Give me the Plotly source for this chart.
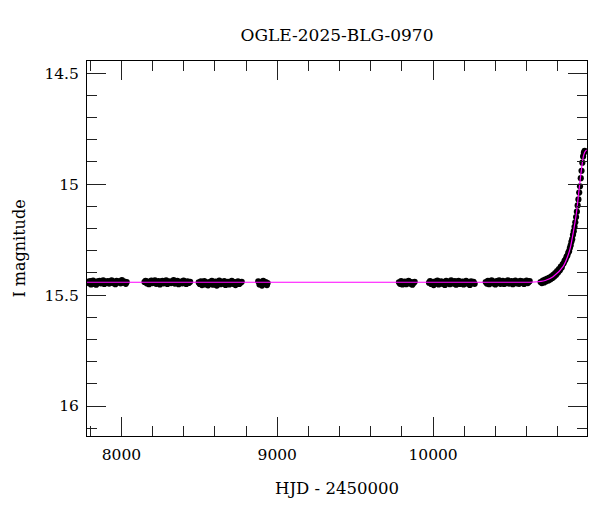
import plotly.graph_objects as go

# ---- Data (HJD - 2450000, I magnitude) ----
season1 = [(7786, 15.440), (7792, 15.446), (7799, 15.437), (7805, 15.452), (7811, 15.443), (7818, 15.435),
           (7824, 15.449), (7831, 15.441), (7838, 15.453), (7846, 15.438), (7853, 15.444), (7860, 15.436),
           (7868, 15.447), (7875, 15.442), (7883, 15.433), (7890, 15.450), (7898, 15.439), (7905, 15.445),
           (7913, 15.437), (7921, 15.448), (7929, 15.441), (7937, 15.434), (7945, 15.446), (7953, 15.440),
           (7961, 15.451), (7969, 15.436), (7978, 15.443), (7986, 15.438), (7995, 15.447), (8003, 15.432),
           (8012, 15.444), (8020, 15.439), (8028, 15.449), (8034, 15.441)]
season2 = [(8148, 15.441), (8155, 15.436), (8162, 15.447), (8169, 15.439), (8177, 15.451), (8184, 15.443),
           (8192, 15.435), (8199, 15.446), (8207, 15.440), (8215, 15.433), (8223, 15.449), (8231, 15.442),
           (8239, 15.437), (8247, 15.452), (8255, 15.444), (8263, 15.436), (8271, 15.447), (8279, 15.441),
           (8287, 15.434), (8295, 15.450), (8303, 15.443), (8311, 15.438), (8319, 15.446), (8327, 15.440),
           (8335, 15.432), (8343, 15.448), (8351, 15.442), (8359, 15.436), (8367, 15.451), (8375, 15.444),
           (8383, 15.439), (8391, 15.447), (8399, 15.435), (8408, 15.443), (8416, 15.450), (8424, 15.438),
           (8432, 15.445), (8441, 15.440)]
season3 = [(8496, 15.443), (8503, 15.450), (8510, 15.438), (8517, 15.455), (8525, 15.446), (8532, 15.437),
           (8540, 15.452), (8548, 15.444), (8556, 15.456), (8564, 15.441), (8572, 15.449), (8580, 15.436),
           (8588, 15.453), (8596, 15.445), (8604, 15.439), (8612, 15.457), (8620, 15.447), (8628, 15.435),
           (8636, 15.451), (8644, 15.443), (8652, 15.448), (8660, 15.437), (8668, 15.454), (8676, 15.444),
           (8684, 15.440), (8692, 15.452), (8700, 15.446), (8708, 15.436), (8716, 15.449), (8724, 15.441),
           (8732, 15.455), (8740, 15.443), (8748, 15.438), (8756, 15.450), (8764, 15.444), (8772, 15.440)]
season4 = [(8878, 15.438), (8886, 15.452), (8894, 15.444), (8902, 15.457), (8910, 15.436), (8918, 15.449),
           (8926, 15.441), (8934, 15.455), (8938, 15.446)]
season5 = [(9781, 15.442), (9788, 15.449), (9795, 15.437), (9803, 15.452), (9811, 15.444), (9819, 15.439),
           (9827, 15.451), (9835, 15.443), (9843, 15.436), (9851, 15.448), (9859, 15.441), (9867, 15.453),
           (9875, 15.445), (9882, 15.440)]
season6 = [(9974, 15.444), (9981, 15.437), (9988, 15.450), (9996, 15.442), (10004, 15.455), (10012, 15.439),
           (10020, 15.447), (10028, 15.435), (10036, 15.452), (10044, 15.443), (10052, 15.438), (10060, 15.449),
           (10068, 15.441), (10076, 15.454), (10084, 15.436), (10092, 15.446), (10100, 15.440), (10108, 15.451),
           (10116, 15.433), (10124, 15.444), (10132, 15.448), (10140, 15.437), (10148, 15.453), (10156, 15.442),
           (10164, 15.436), (10172, 15.450), (10180, 15.443), (10188, 15.439), (10196, 15.452), (10204, 15.445),
           (10212, 15.436), (10220, 15.448), (10228, 15.441), (10236, 15.454), (10244, 15.438), (10252, 15.446),
           (10260, 15.440), (10267, 15.449)]
season7 = [(10338, 15.441), (10345, 15.448), (10352, 15.436), (10360, 15.451), (10368, 15.443), (10376, 15.434),
           (10384, 15.447), (10392, 15.440), (10400, 15.452), (10408, 15.437), (10416, 15.445), (10424, 15.433),
           (10432, 15.449), (10440, 15.442), (10448, 15.436), (10456, 15.450), (10464, 15.439), (10472, 15.446),
           (10480, 15.434), (10488, 15.448), (10496, 15.441), (10504, 15.437), (10512, 15.451), (10520, 15.443),
           (10528, 15.435), (10536, 15.447), (10544, 15.440), (10552, 15.449), (10560, 15.436), (10568, 15.444),
           (10576, 15.438), (10584, 15.450), (10592, 15.442), (10600, 15.435), (10608, 15.446), (10615, 15.440),
           (10620, 15.437)]
season8 = [(10690, 15.441), (10698, 15.446), (10705, 15.435), (10712, 15.443), (10719, 15.430), (10726, 15.438),
           (10733, 15.426), (10740, 15.434), (10747, 15.421), (10754, 15.429), (10760, 15.415), (10766, 15.423),
           (10772, 15.409), (10778, 15.416), (10784, 15.401), (10790, 15.408), (10796, 15.392), (10802, 15.398),
           (10808, 15.383), (10814, 15.388), (10820, 15.372), (10826, 15.376), (10832, 15.361), (10838, 15.357),
           (10844, 15.346), (10850, 15.340), (10856, 15.328), (10862, 15.322), (10868, 15.308), (10873, 15.302),
           (10878, 15.288), (10883, 15.276), (10888, 15.260), (10893, 15.248), (10898, 15.228), (10903, 15.212),
           (10908, 15.192), (10913, 15.172), (10918, 15.148), (10923, 15.124), (10928, 15.096), (10933, 15.069),
           (10938, 15.038), (10943, 15.010), (10948, 14.973), (10953, 14.940), (10958, 14.903), (10963, 14.875),
           (10968, 14.858), (10973, 14.850)]

# model (fitted microlensing curve) knots
model_t = [7779, 8500, 9200, 9900, 10500, 10650, 10720, 10770, 10834, 10877, 10899, 10920, 10937, 10952, 10967, 10980, 10988]
model_mag = [15.442, 15.442, 15.442, 15.442, 15.442, 15.441, 15.434, 15.417, 15.372, 15.297, 15.221, 15.131, 15.026,
             14.936, 14.868, 14.849, 14.846]

title_text = "OGLE-2025-BLG-0970"
x_title = "HJD - 2450000"
y_title = "I magnitude"
x_tickvals = [8000, 9000, 10000]
x_ticktext = ["8000", "9000", "10000"]
y_tickvals = [14.5, 15, 15.5, 16]
y_ticktext = ["14.5", "15", "15.5", "16"]
x_range = [7779, 10988]
y_range = [16.135, 14.445]

seasons = [season1, season2, season3, season4, season5, season6, season7, season8]
obs_t = [p[0] for s in seasons for p in s]
obs_mag = [p[1] for s in seasons for p in s]

FONT = "DejaVu Serif"
W, H = 592, 504  # page body has an 8px margin in the browser

fig = go.Figure()
fig.add_trace(go.Scatter(x=obs_t, y=obs_mag, mode="markers",
                         marker=dict(color="black", size=6.2, line=dict(width=0)),
                         showlegend=False, hoverinfo="skip"))
fig.add_trace(go.Scatter(x=model_t, y=model_mag, mode="lines",
                         line=dict(color="#ff00ff", width=1.2, shape="spline", smoothing=0.8),
                         showlegend=False, hoverinfo="skip"))

axis_common = dict(showline=True, linecolor="black", linewidth=1, mirror="ticks",
                   ticks="inside", tickcolor="#222", tickwidth=1,
                   showgrid=False, zeroline=False, automargin=False,
                   tickfont=dict(family=FONT, size=15.5, color="black"))

fig.update_xaxes(range=x_range, tickmode="array", tickvals=x_tickvals, ticktext=x_ticktext,
                 ticklen=19, ticklabelstandoff=4,
                 minor=dict(dtick=200, tick0=0, ticks="inside", ticklen=10, tickcolor="#222", showgrid=False),
                 title=dict(text=x_title, font=dict(family=FONT, size=16.5, color="black"), standoff=19),
                 **axis_common)
fig.update_yaxes(range=y_range, tickmode="array", tickvals=y_tickvals, ticktext=y_ticktext,
                 ticklen=19, ticklabelstandoff=4,
                 minor=dict(dtick=0.1, tick0=0, ticks="inside", ticklen=10, tickcolor="#222", showgrid=False),
                 title=dict(text=y_title, font=dict(family=FONT, size=16, color="black"), standoff=14),
                 **axis_common)

fig.update_layout(
    width=W, height=H,
    margin=dict(l=79, r=13, t=53, b=76, autoexpand=False),
    paper_bgcolor="white", plot_bgcolor="white",
    title=dict(text=title_text, x=0.5, xref="paper", xanchor="center",
               y=1 - 27 / H, yref="container", yanchor="middle", automargin=False,
               font=dict(family=FONT, size=17, color="black")),
)

fig.write_html("out.html")
